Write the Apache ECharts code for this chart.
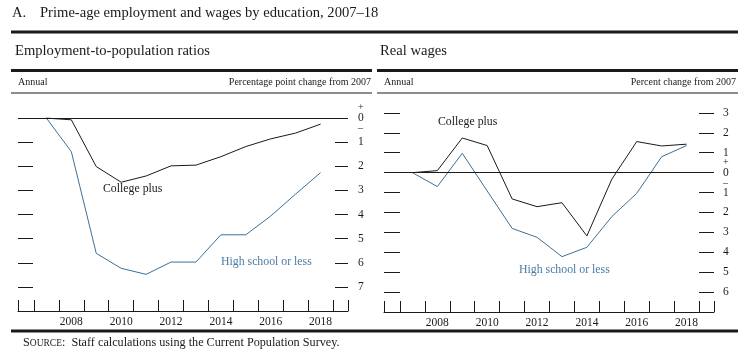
<!DOCTYPE html>
<html>
<head>
<meta charset="utf-8">
<script src="https://cdn.jsdelivr.net/npm/echarts@6/dist/echarts.min.js"></script>
<style>html,body{margin:0;padding:0;background:#fff;}#chart{width:754px;height:357px;}</style>
</head>
<body>
<div id="chart"></div>
<script>
// ---- data ----
const years = [2007, 2008, 2009, 2010, 2011, 2012, 2013, 2014, 2015, 2016, 2017, 2018];
// Employment-to-population ratios, percentage point change from 2007
const empCollege = [0, -0.07, -2.01, -2.66, -2.40, -1.98, -1.95, -1.60, -1.18, -0.86, -0.62, -0.25];
const empHighSchool = [0, -1.39, -5.61, -6.23, -6.48, -5.97, -5.97, -4.84, -4.84, -4.06, -3.15, -2.26];
// Real wages, percent change from 2007
const wageCollege = [0, 0.10, 1.74, 1.36, -1.32, -1.71, -1.51, -3.18, -0.33, 1.56, 1.34, 1.43];
const wageHighSchool = [0, -0.70, 0.97, -0.92, -2.80, -3.25, -4.22, -3.75, -2.21, -1.04, 0.80, 1.36];
// axis ticks
const yearBoundaryTicks = [2006.5, 2007.5, 2008.5, 2009.5, 2010.5, 2011.5, 2012.5, 2013.5, 2014.5, 2015.5, 2016.5, 2017.5, 2018.5];
const yearLabels = [2008, 2010, 2012, 2014, 2016, 2018];
const empTicks = [0, -1, -2, -3, -4, -5, -6, -7];
const wageTicks = [3, 2, 1, 0, -1, -2, -3, -4, -5, -6];

const X_MIN = 2005.86, X_MAX = 2019.1;
const FONT = '"Liberation Serif", "Times New Roman", serif';
const INK = '#1a1a1a';
const BLUE = '#3d7097';
const BLUE_TEXT = '#4a7ba3';

const pairs = (ys) => years.map((y, i) => [y, ys[i]]);

function xAxisFor(gi) {
  return {
    type: 'value', gridIndex: gi, min: X_MIN, max: X_MAX, position: 'bottom',
    axisLine: { show: true, onZero: false, lineStyle: { color: INK, width: 1 } },
    axisTick: { show: true, inside: true, length: 11, lineStyle: { color: INK, width: 1 },
      customValues: [X_MIN].concat(yearBoundaryTicks, [X_MAX]) },
    axisLabel: { show: true, customValues: yearLabels, margin: 5,
      fontFamily: FONT, fontSize: 11.5, color: INK, formatter: v => String(v) },
    splitLine: { show: false }
  };
}

const zeroRich = {
  s: { fontFamily: FONT, fontSize: 10, lineHeight: 9, color: INK },
  z: { fontFamily: FONT, fontSize: 11.5, lineHeight: 12, color: INK }
};
function yLabelFmt(v) {
  if (Math.abs(v) < 1e-9) return '{s|+}\n{z|0}\n{s|–}';
  return '{z|' + Math.abs(v) + '}';
}

const option = {
  animation: false,
  backgroundColor: '#fff',
  grid: [
    { left: 18, right: 406, top: 94, bottom: 46 },
    { left: 384, right: 40, top: 93, bottom: 45 }
  ],
  xAxis: [xAxisFor(0), xAxisFor(1)],
  yAxis: [
    { type: 'value', gridIndex: 0, min: -8, max: 1, position: 'left',
      axisLine: { show: false }, splitLine: { show: false },
      axisTick: { show: true, inside: true, length: 15, customValues: empTicks.filter(v => v !== 0), lineStyle: { color: INK } },
      axisLabel: { show: false } },
    { type: 'value', gridIndex: 0, min: -8, max: 1, position: 'right',
      axisLine: { show: false }, splitLine: { show: false },
      axisTick: { show: true, inside: true, length: 13, customValues: empTicks, lineStyle: { color: INK } },
      axisLabel: { show: true, customValues: empTicks, margin: 10, formatter: yLabelFmt, rich: zeroRich, align: 'left' } },
    { type: 'value', gridIndex: 1, min: -7, max: 4, position: 'left',
      axisLine: { show: false }, splitLine: { show: false },
      axisTick: { show: true, inside: true, length: 16, customValues: wageTicks.filter(v => v !== 0), lineStyle: { color: INK } },
      axisLabel: { show: false } },
    { type: 'value', gridIndex: 1, min: -7, max: 4, position: 'right',
      axisLine: { show: false }, splitLine: { show: false },
      axisTick: { show: true, inside: true, length: 15, customValues: wageTicks, lineStyle: { color: INK } },
      axisLabel: { show: true, customValues: wageTicks, margin: 9, formatter: yLabelFmt, rich: zeroRich, align: 'left' } }
  ],
  series: [
    { type: 'line', xAxisIndex: 0, yAxisIndex: 0, data: pairs(empCollege), symbol: 'none',
      lineStyle: { color: INK, width: 1 }, z: 3,
      markLine: { silent: true, symbol: 'none', label: { show: false },
        lineStyle: { color: INK, width: 1, type: 'solid' }, data: [{ yAxis: 0 }] } },
    { type: 'line', xAxisIndex: 0, yAxisIndex: 0, data: pairs(empHighSchool), symbol: 'none',
      lineStyle: { color: BLUE, width: 1 }, z: 3 },
    { type: 'line', xAxisIndex: 1, yAxisIndex: 2, data: pairs(wageCollege), symbol: 'none',
      lineStyle: { color: INK, width: 1 }, z: 3,
      markLine: { silent: true, symbol: 'none', label: { show: false },
        lineStyle: { color: INK, width: 1, type: 'solid' }, data: [{ yAxis: 0 }] } },
    { type: 'line', xAxisIndex: 1, yAxisIndex: 2, data: pairs(wageHighSchool), symbol: 'none',
      lineStyle: { color: BLUE, width: 1 }, z: 3 }
  ],
  graphic: [
    // header
    { type: 'text', left: 12, top: 6, style: { text: 'A.', font: '14.6px ' + FONT, fill: INK } },
    { type: 'text', left: 40, top: 6, style: { text: 'Prime-age employment and wages by education, 2007–18', font: '14.6px ' + FONT, fill: INK } },
    { type: 'rect', shape: { x: 11, y: 30.5, width: 727, height: 3 }, style: { fill: INK } },
    // panel titles
    { type: 'text', left: 15, top: 44, style: { text: 'Employment-to-population ratios', font: '14.6px ' + FONT, fill: INK } },
    { type: 'text', left: 380, top: 44, style: { text: 'Real wages', font: '14.6px ' + FONT, fill: INK } },
    { type: 'rect', shape: { x: 11, y: 69, width: 361, height: 3 }, style: { fill: INK } },
    { type: 'rect', shape: { x: 377, y: 69, width: 361, height: 3 }, style: { fill: INK } },
    { type: 'text', left: 18, top: 77, style: { text: 'Annual', font: '10px ' + FONT, fill: INK } },
    { type: 'text', right: 754 - 371, top: 77, style: { text: 'Percentage point change from 2007', font: '10px ' + FONT, fill: INK, align: 'right' } },
    { type: 'text', left: 384, top: 77, style: { text: 'Annual', font: '10px ' + FONT, fill: INK } },
    { type: 'text', right: 754 - 736, top: 77, style: { text: 'Percent change from 2007', font: '10px ' + FONT, fill: INK, align: 'right' } },
    { type: 'rect', shape: { x: 11, y: 92.5, width: 361, height: 1 }, style: { fill: INK } },
    { type: 'rect', shape: { x: 377, y: 92.5, width: 361, height: 1 }, style: { fill: INK } },
    // series annotations
    { type: 'text', left: 103, top: 183, style: { text: 'College plus', font: '11.8px ' + FONT, fill: INK } },
    { type: 'text', left: 221, top: 256, style: { text: 'High school or less', font: '11.8px ' + FONT, fill: BLUE_TEXT } },
    { type: 'text', left: 438, top: 116, style: { text: 'College plus', font: '11.8px ' + FONT, fill: INK } },
    { type: 'text', left: 519, top: 264, style: { text: 'High school or less', font: '11.8px ' + FONT, fill: BLUE_TEXT } },
    // footer
    { type: 'rect', shape: { x: 11, y: 329.5, width: 727, height: 3 }, style: { fill: INK } },
    { type: 'text', left: 23, top: 337, style: {
        text: '{b|S}{s|OURCE}{b|:  Staff calculations using the Current Population Survey.}',
        rich: { b: { font: '12.2px ' + FONT, fill: INK }, s: { font: '9.5px ' + FONT, fill: INK } } } }
  ]
};

const chart = echarts.init(document.getElementById('chart'), null, { renderer: 'canvas' });
chart.setOption(option);
</script>
</body>
</html>
